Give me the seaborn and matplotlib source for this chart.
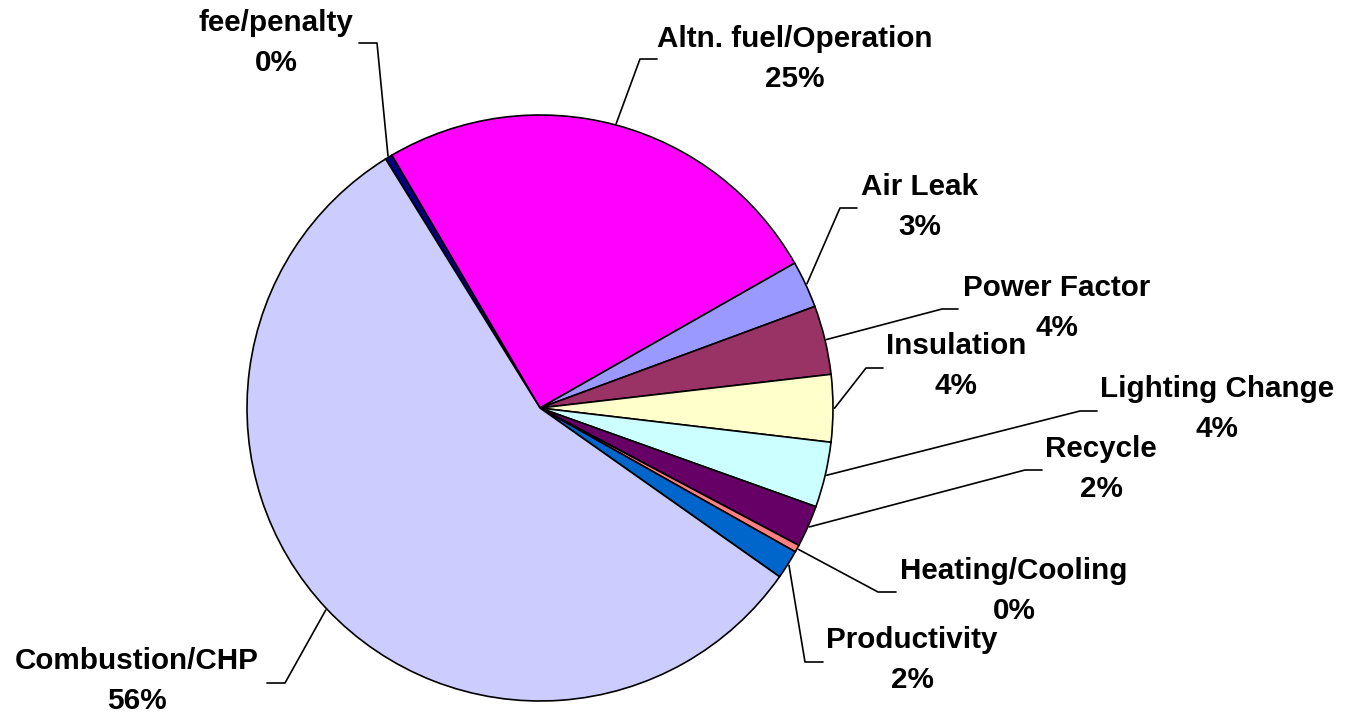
import numpy as np
import matplotlib
matplotlib.use("Agg")
import matplotlib.pyplot as plt
import seaborn as sns

# slice data (clockwise from the top-left boundary)
labels = ["fee/penalty", "Altn. fuel/Operation", "Air Leak", "Power Factor",
          "Insulation", "Lighting Change", "Recycle", "Heating/Cooling",
          "Productivity", "Combustion/CHP"]
shares = [0.4, 25.2, 2.6, 3.8, 3.7, 3.6, 2.3, 0.4, 1.6, 56.4]
colors = ["#000080", "#FF00FF", "#9999FF", "#993366", "#FFFFCC",
          "#CCFFFF", "#660066", "#FF8080", "#0066CC", "#CCCCFF"]

# label layout in pixels: text centre, leader y, knee x, end x
text_pos = [(276, 43), (795, 59), (920, 207), (1057, 308), (956, 366),
            (1217, 409), (1101, 469), (1014, 591), (912, 660), (137, 681)]
leader = [(43, 377, 359), (59, 640, 657), (208, 840, 857), (309, 942, 958),
          (368, 866, 883), (411, 1080, 1097), (470, 1025, 1042),
          (592, 878, 896), (662, 805, 823), (683, 285, 267)]

sns.set_style("white")
plt.rcParams['font.family'] = ['Liberation Sans', 'DejaVu Sans']

W, H = 1354, 720
cx, cy, R = 540, 408, 293


def to_data(px, py):
    return (px - cx) / R, (cy - py) / R


fig = plt.figure(figsize=(W / 100, H / 100), dpi=100)
ax = fig.add_axes([0, 0, 1, 1])

wedges, _ = ax.pie(shares, colors=sns.color_palette(colors), startangle=121.8,
                   counterclock=False, radius=1.0,
                   wedgeprops=dict(edgecolor="black", linewidth=1.2))

total = sum(shares)
for w, name, share, (tx, ty), (ly, kx, ex) in zip(wedges, labels, shares, text_pos, leader):
    mid = np.deg2rad((w.theta1 + w.theta2) / 2)
    tip = (1.005 * np.cos(mid), 1.005 * np.sin(mid))
    k = to_data(kx, ly)
    e = to_data(ex, ly)
    ax.plot([tip[0], k[0], e[0]], [tip[1], k[1], e[1]], color="black", lw=1.2)
    x, y = to_data(tx, ty)
    ax.text(x, y, f"{name}\n{round(share / total * 100):.0f}%", ha="center", va="center",
            fontsize=21.3, fontweight="bold", linespacing=1.55, color="black")

ax.set_xlim(-cx / R, (W - cx) / R)
ax.set_ylim((cy - H) / R, cy / R)
ax.set_aspect("equal")
ax.axis("off")

fig.savefig("out.png", dpi=100, facecolor="white")
